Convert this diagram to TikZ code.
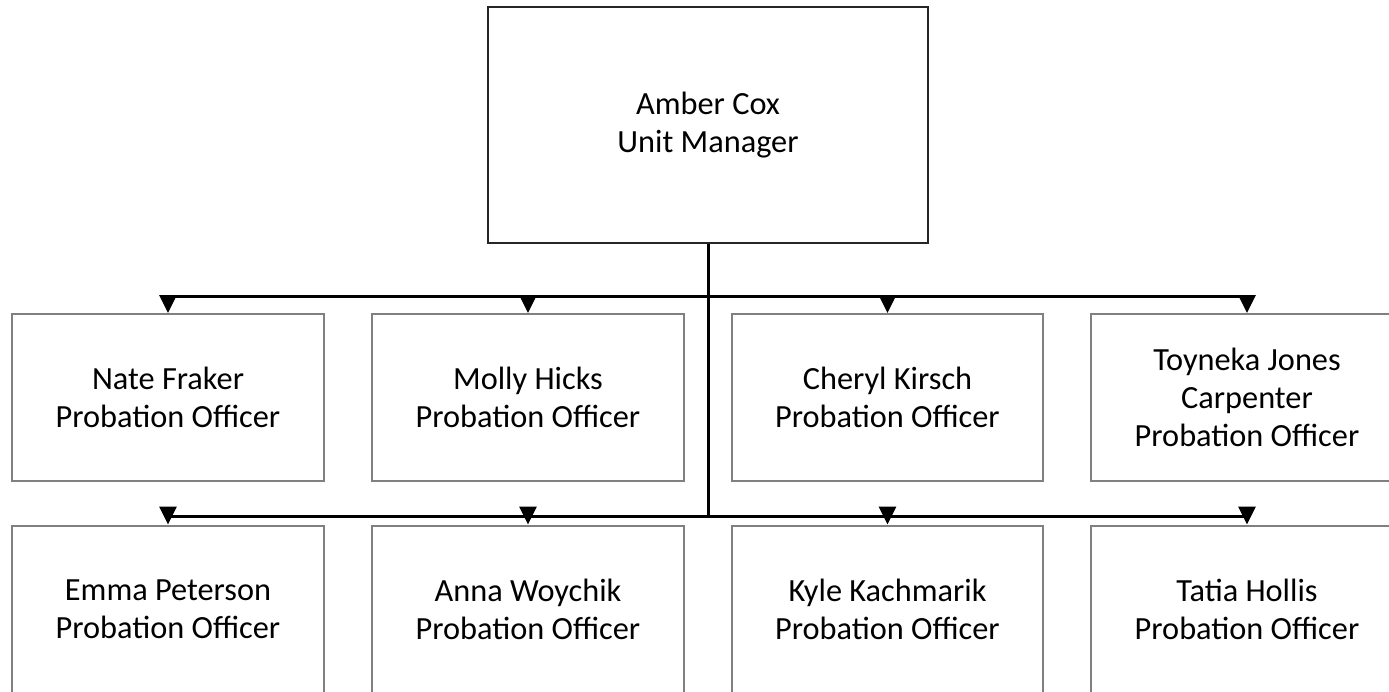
\documentclass[tikz,border=0pt]{standalone}
\usepackage{fontspec}
\setmainfont{Carlito}
\usetikzlibrary{arrows.meta}

\begin{document}
\begin{tikzpicture}[
    x=0.02cm, y=-0.02cm, line join=miter,
    staff/.style={draw=black!50, line width=0.04cm, align=center,
      minimum width=6.24cm, minimum height=3.34cm, inner sep=0pt,
      font={\fontsize{18.4}{21.7}\selectfont}},
    boss/.style={staff, draw=black!85, line width=0.03cm,
      minimum width=8.8cm, minimum height=4.72cm},
    link/.style={line width=0.06cm},
    tip/.style={link, -{Triangle[length=0.36cm, width=0.34cm]}}]
  \useasboundingbox (0,0) rectangle (1389,691);
  % Jefe
  \node[boss] (mgr) at (708,125) {Amber Cox\\Unit Manager};
  % Primera fila
  \node[staff] (po1) at (168,397.5) {Nate Fraker\\Probation Officer};
  \node[staff] (po2) at (528,397.5) {Molly Hicks\\Probation Officer};
  \node[staff] (po3) at (887.5,397.5) {Cheryl Kirsch\\Probation Officer};
  \node[staff] (po4) at (1247,397.5) {Toyneka Jones\\Carpenter\\Probation Officer};
  % Segunda fila
  \node[staff] (po5) at (168,609) {Emma Peterson\\Probation Officer};
  \node[staff] (po6) at (528,609) {Anna Woychik\\Probation Officer};
  \node[staff] (po7) at (887.5,609) {Kyle Kachmarik\\Probation Officer};
  \node[staff] (po8) at (1247,609) {Tatia Hollis\\Probation Officer};
  % Conectores
  \coordinate (bus1) at (708,296.5);
  \coordinate (bus2) at (708,516.5);
  \draw[link] (mgr.south) -- (bus2);
  \draw[link] (po1.north |- bus1) -- (po4.north |- bus1);
  \draw[link] (po5.north |- bus2) -- (po8.north |- bus2);
  \draw[tip] (po1.north |- bus1) -- (po1.north);
  \draw[tip] (po2.north |- bus1) -- (po2.north);
  \draw[tip] (po3.north |- bus1) -- (po3.north);
  \draw[tip] (po4.north |- bus1) -- (po4.north);
  \draw[tip] (po5.north |- bus2) -- (po5.north);
  \draw[tip] (po6.north |- bus2) -- (po6.north);
  \draw[tip] (po7.north |- bus2) -- (po7.north);
  \draw[tip] (po8.north |- bus2) -- (po8.north);
\end{tikzpicture}
\end{document}
